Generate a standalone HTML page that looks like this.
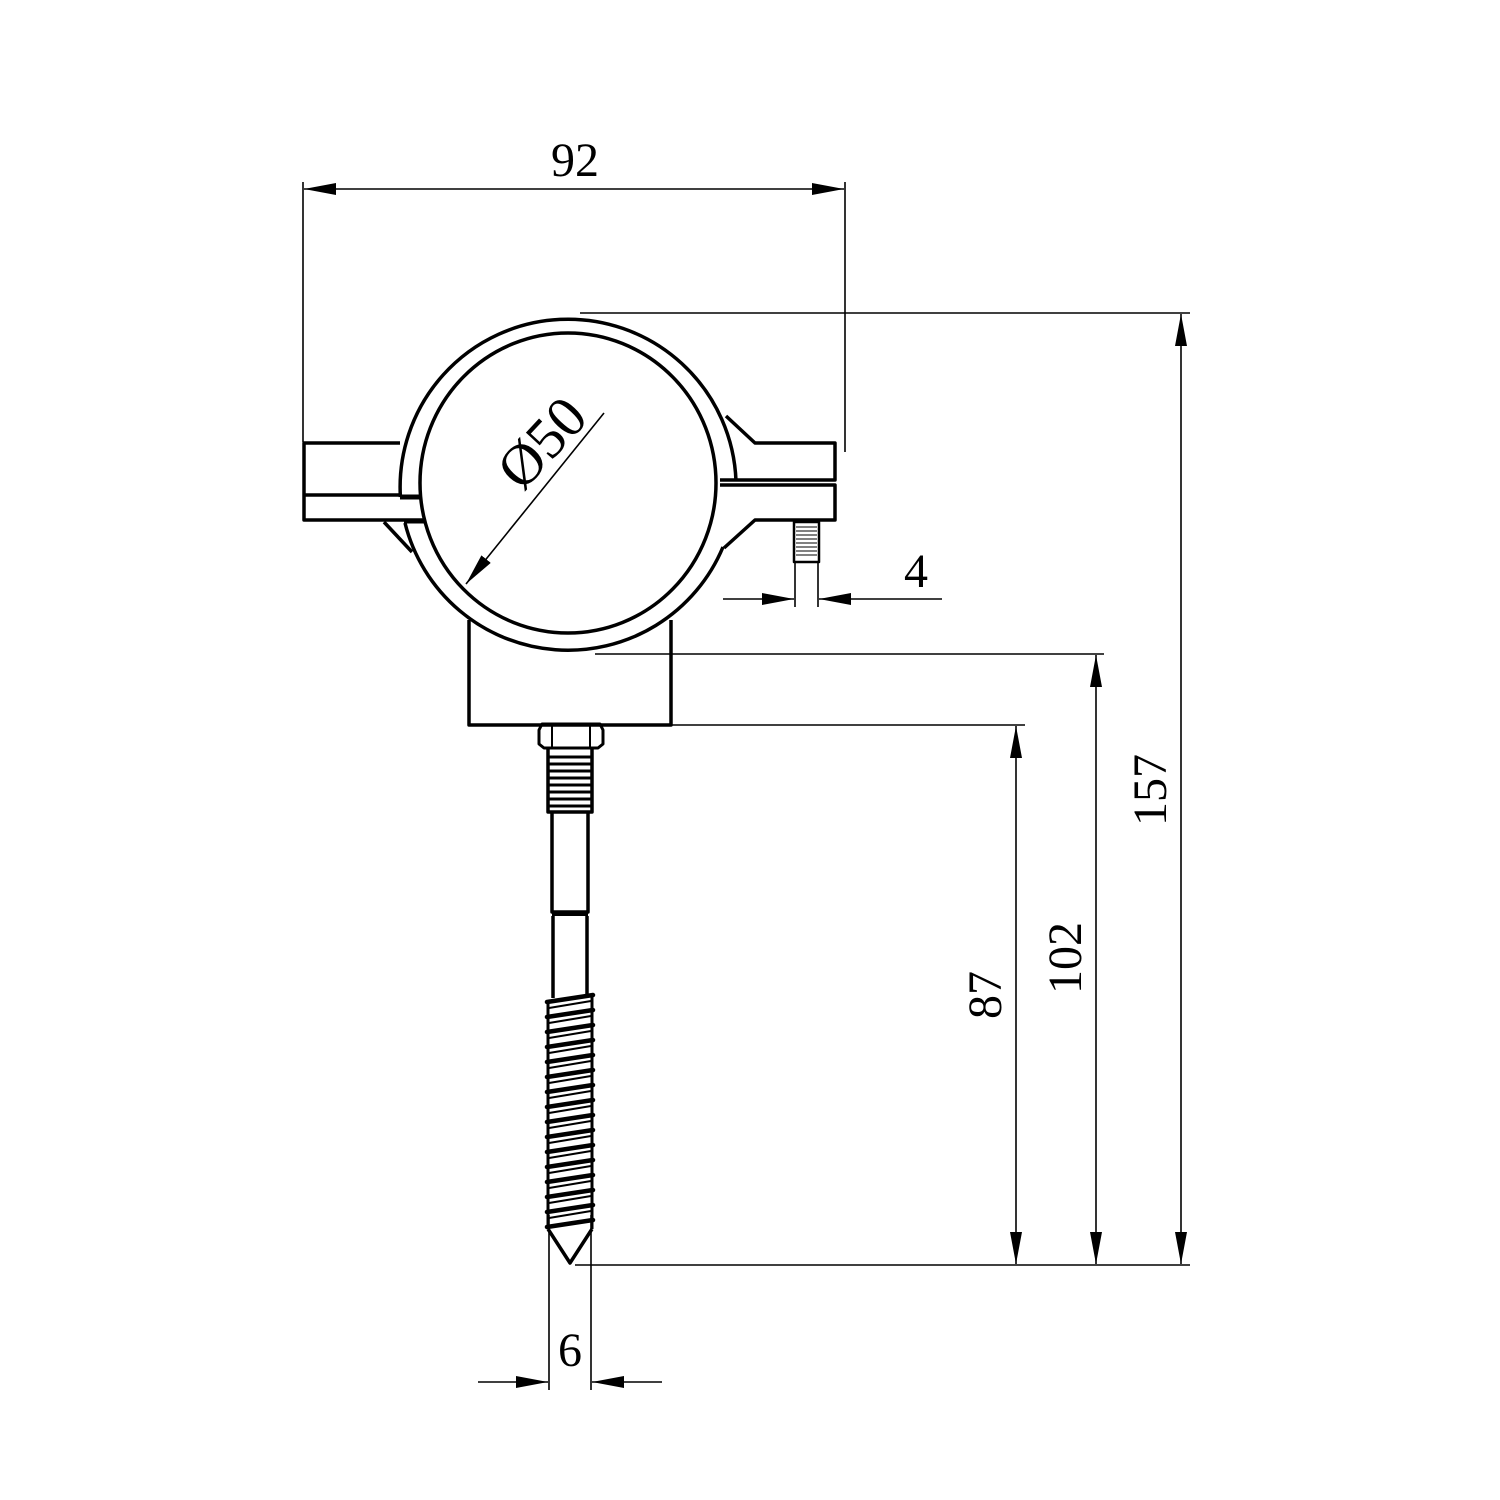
<!DOCTYPE html>
<html><head><meta charset="utf-8"><style>
html,body{margin:0;padding:0;background:#fff;}
svg{display:block;}
text{font-family:"Liberation Serif",serif;fill:#000;}
</style></head><body>
<svg width="1500" height="1500" viewBox="0 0 1500 1500" xmlns="http://www.w3.org/2000/svg">
<defs>
<marker id="a" viewBox="0 0 32 12" refX="32" refY="6" markerWidth="32" markerHeight="12" markerUnits="userSpaceOnUse" orient="auto">
<path d="M0,0 L32,6 L0,12 Z" fill="#000"/></marker>
</defs>
<g fill="none" stroke="#000" stroke-width="1.6">
<line x1="303" y1="182" x2="303" y2="442"/>
<line x1="845" y1="182" x2="845" y2="452"/>
<line x1="575" y1="189" x2="304" y2="189" marker-end="url(#a)"/>
<line x1="575" y1="189" x2="844" y2="189" marker-end="url(#a)"/>
<line x1="580" y1="313" x2="1190" y2="313"/>
<line x1="575" y1="1265" x2="1190" y2="1265"/>
<line x1="1181" y1="790" x2="1181" y2="314" marker-end="url(#a)"/>
<line x1="1181" y1="790" x2="1181" y2="1264" marker-end="url(#a)"/>
<line x1="595" y1="654" x2="1104" y2="654"/>
<line x1="1096" y1="950" x2="1096" y2="655" marker-end="url(#a)"/>
<line x1="1096" y1="950" x2="1096" y2="1264" marker-end="url(#a)"/>
<line x1="672" y1="725" x2="1025" y2="725"/>
<line x1="1016" y1="990" x2="1016" y2="726" marker-end="url(#a)"/>
<line x1="1016" y1="990" x2="1016" y2="1264" marker-end="url(#a)"/>
<line x1="549" y1="1215" x2="549" y2="1390"/>
<line x1="591" y1="1215" x2="591" y2="1390"/>
<line x1="478" y1="1382" x2="548" y2="1382" marker-end="url(#a)"/>
<line x1="662" y1="1382" x2="592" y2="1382" marker-end="url(#a)"/>
<line x1="795" y1="563" x2="795" y2="607"/>
<line x1="818" y1="563" x2="818" y2="607"/>
<line x1="723" y1="599" x2="794" y2="599" marker-end="url(#a)"/>
<line x1="942" y1="599" x2="819" y2="599" marker-end="url(#a)"/>
<line x1="604" y1="413" x2="466" y2="584" marker-end="url(#a)"/>
</g>
<g fill="none" stroke="#000" stroke-width="3.5" stroke-linejoin="round">
<path d="M469,620 L469,725 L671,725 L671,620"/>
<path d="M400,443 L304,443 L304,520 L424,520"/>
<line x1="304" y1="495" x2="400" y2="495"/>
<line x1="400" y1="497" x2="420" y2="497" stroke-width="5"/>
<line x1="404" y1="521" x2="424" y2="521" stroke-width="5"/>
<path d="M384,522 L412,552"/>
<path d="M726,416 L755,443 L835,443 L835,480 L720,480"/>
<path d="M720,485 L835,485 L835,520 L755,520 L724,548"/>
<path d="M400.4,497 A168,168 0 1 1 736,481"/>
<path d="M405,523 A168,168 0 0 0 723,547"/>
<ellipse cx="568" cy="483" rx="148" ry="150"/>
<rect x="794" y="522" width="25" height="40" stroke-width="2.5"/>
<path d="M542,724 L600,724 L603,730 L603,744 L598,748 L544,748 L539,744 L539,730 Z" stroke-width="3"/>
<line x1="552" y1="725" x2="552" y2="747" stroke-width="2"/>
<line x1="590" y1="725" x2="590" y2="747" stroke-width="2"/>
<path d="M548,748 L548,812 L592,812 L592,748"/>
<path d="M552,812 L552,912 L588,912 L588,812"/>
<path d="M553,916 L553,998 M587,916 L587,994"/>
<line x1="552" y1="914" x2="588" y2="914" stroke-width="4"/>
<path d="M548,1229 L570,1263 L592,1229"/>
<line x1="548" y1="1000" x2="548" y2="1229" stroke-width="3"/>
<line x1="592" y1="996" x2="592" y2="1229" stroke-width="3"/>
</g>
<g stroke="#000" stroke-width="3">
<line x1="549" y1="757" x2="591" y2="757"/>
<line x1="549" y1="764" x2="591" y2="764"/>
<line x1="549" y1="771" x2="591" y2="771"/>
<line x1="549" y1="778" x2="591" y2="778"/>
<line x1="549" y1="785" x2="591" y2="785"/>
<line x1="549" y1="792" x2="591" y2="792"/>
<line x1="549" y1="799" x2="591" y2="799"/>
<line x1="549" y1="806" x2="591" y2="806"/>
</g>
<g stroke="#000" stroke-width="1">
<line x1="796" y1="527" x2="817" y2="527"/><line x1="796" y1="531" x2="817" y2="531"/>
<line x1="796" y1="535" x2="817" y2="535"/><line x1="796" y1="539" x2="817" y2="539"/>
<line x1="796" y1="543" x2="817" y2="543"/><line x1="796" y1="547" x2="817" y2="547"/>
<line x1="796" y1="551" x2="817" y2="551"/><line x1="796" y1="555" x2="817" y2="555"/>
</g>
<g stroke="#000" stroke-width="4.5" stroke-linecap="round" fill="none">
<path d="M547,1002 L593,995 M547,1017 L593,1010 M547,1032 L593,1025 M547,1047 L593,1040 M547,1062 L593,1055 M547,1077 L593,1070 M547,1092 L593,1085 M547,1107 L593,1100 M547,1122 L593,1115 M547,1137 L593,1130 M547,1152 L593,1145 M547,1167 L593,1160 M547,1182 L593,1175 M547,1197 L593,1190 M547,1212 L593,1205 M547,1227 L593,1220"/>
</g>
<g stroke="#000" stroke-width="2" fill="none">
<path d="M549,1008 L591,1001 M549,1023 L591,1016 M549,1038 L591,1031 M549,1053 L591,1046 M549,1068 L591,1061 M549,1083 L591,1076 M549,1098 L591,1091 M549,1113 L591,1106 M549,1128 L591,1121 M549,1143 L591,1136 M549,1158 L591,1151 M549,1173 L591,1166 M549,1188 L591,1181 M549,1203 L591,1196 M549,1218 L591,1211"/>
</g>
<text x="575" y="176" font-size="48" text-anchor="middle">92</text>
<text x="916" y="587" font-size="48" text-anchor="middle">4</text>
<text x="570" y="1366" font-size="48" text-anchor="middle">6</text>
<text transform="translate(1166,790) rotate(-90)" font-size="48" text-anchor="middle">157</text>
<text transform="translate(1081,958) rotate(-90)" font-size="48" text-anchor="middle">102</text>
<text transform="translate(1001,995) rotate(-90)" font-size="48" text-anchor="middle">87</text>
<text transform="translate(556,456) rotate(-47)" font-size="58" text-anchor="middle">Ø50</text>
</svg>
</body></html>
